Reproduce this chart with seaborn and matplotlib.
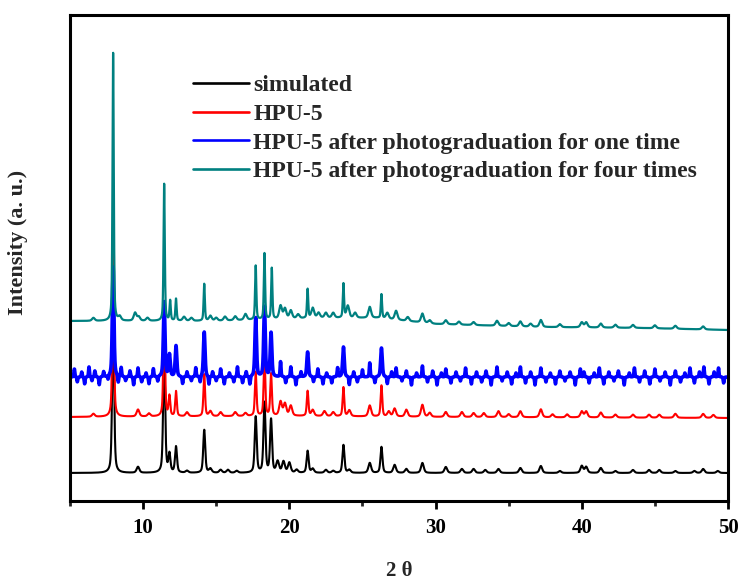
import numpy as np
import pandas as pd
import seaborn as sns
import matplotlib.pyplot as plt
from matplotlib.lines import Line2D
from matplotlib.ticker import MultipleLocator

# ---------------- data ----------------
labels = ["simulated", "HPU-5",
          "HPU-5 after photograduation for one time",
          "HPU-5 after photograduation for four times"]
colors = ["#000000", "#FF0000", "#0000FF", "#008080"]

# baselines (offset in arbitrary units) anchored at 2theta positions
sim_base_x = [5, 50]
sim_base_y = [0, 0]
red_base_x = [5, 20, 30, 50]
red_base_y = [56, 57, 56, 55]
blue_base_x = [5, 50]
blue_base_y = [96, 96]
teal_base_x = [5, 15, 22, 26, 30, 37, 44, 50]
teal_base_y = [152, 152, 155, 155, 149, 146, 145, 143]

# peak positions (2 theta) and heights (a.u.)
sim_pos = [7.95, 9.65, 11.44, 11.8, 12.25, 13.0, 14.18, 14.6, 15.3, 15.8, 16.4, 17.7, 18.3, 18.75,
           19.2, 19.6, 20.0, 20.5, 21.25, 21.6, 22.5, 23.0, 23.7, 24.1, 25.5, 26.3, 27.2, 28.0,
           29.1, 30.7, 31.8, 32.6, 33.4, 34.3, 35.8, 37.2, 38.5, 40.0, 40.3, 41.3, 42.3, 43.5,
           44.6, 45.3, 46.4, 47.7, 48.3, 49.3]
sim_h = [150, 6, 120, 18, 26, 2, 43, 4, 3, 3, 2, 56, 70, 53,
         11, 11, 10, 3, 22, 4, 3, 2, 28, 3, 10, 26, 8, 4,
         10, 6, 4, 4, 3, 4, 5, 7, 2, 7, 6, 5, 2, 3,
         3, 3, 2, 2, 4, 2]

red_pos = [6.6, 7.95, 9.65, 10.4, 11.44, 11.8, 12.25, 13.0, 14.18, 14.6, 15.3, 16.3, 17.0, 17.7,
           18.3, 18.75, 19.4, 19.7, 20.1, 21.25, 21.6, 22.4, 23.0, 23.7, 24.1, 25.5, 26.3, 26.8,
           27.2, 28.0, 29.1, 29.6, 30.7, 31.8, 32.6, 33.3, 34.3, 35.0, 35.8, 37.2, 38.0, 39.0,
           40.0, 40.3, 41.3, 42.3, 43.5, 44.6, 45.3, 46.4, 48.3, 49.0]
red_h = [3, 175, 7, 3, 115, 20, 25, 4, 42, 5, 4, 4, 3, 44,
         60, 42, 14, 12, 10, 25, 6, 5, 4, 29, 6, 11, 31, 5,
         8, 7, 12, 4, 5, 5, 4, 4, 6, 3, 6, 8, 3, 3,
         6, 6, 5, 3, 3, 3, 3, 4, 4, 3]

blue_pos = [5.3, 5.5, 5.8, 6.0, 6.3, 6.5, 6.7, 7.0, 7.3, 7.6, 7.95, 8.3, 8.5, 8.8, 9.1, 9.35,
            9.65, 9.9, 10.2, 10.4, 10.7, 11.0, 11.44, 11.8, 12.25, 12.7, 13.0, 13.3, 13.6,
            13.9, 14.18, 14.5, 14.75, 15.0, 15.3, 15.55, 15.9, 16.2, 16.45, 16.8, 17.05,
            17.3, 17.7, 18.3, 18.75, 19.4, 19.75, 20.1, 20.45, 20.8, 21.25, 21.65, 21.95,
            22.3, 22.55, 22.9, 23.3, 23.7, 24.1, 24.4, 24.65, 25.0, 25.5, 25.85, 26.3, 26.7,
            27.0, 27.3, 27.7, 28.0, 28.35, 28.7, 29.1, 29.45, 29.8, 30.1, 30.4, 30.7, 31.05,
            31.4, 31.7, 32.05, 32.45, 32.8, 33.15, 33.45, 33.8, 34.2, 34.55, 34.9, 35.2,
            35.5, 35.8, 36.15, 36.5, 36.8, 37.2, 37.55, 37.85, 38.2, 38.5, 38.85, 39.2,
            39.55, 39.9, 40.15, 40.5, 40.85, 41.2, 41.5, 41.85, 42.2, 42.5, 42.9, 43.25,
            43.6, 43.95, 44.3, 44.65, 45.0, 45.35, 45.7, 46.05, 46.4, 46.75, 47.05, 47.4,
            47.7, 48.05, 48.35, 48.7, 49.05, 49.35, 49.7]
blue_h = [8, -5, 5, -7, 10, -4, 6, -8, 5, -4, 110, -7, 9, -4, 6, -8,
          9, -5, 4, -7, 8, -5, 75, 22, 31, -7, 5, -4, 9,
          -6, 45, -8, 5, -4, 8, -7, 4, -5, 10, -6, 5,
          -8, 59, 70, 44, 15, -6, 10, -8, 5, 25, -5, 8,
          -7, 4, -6, 9, 30, -8, 5, -5, 7, 14, -6, 29, -7,
          5, 9, -4, 6, -8, 4, 11, -5, 6, -8, 4, 8, -6,
          5, -4, 9, -7, 5, -5, 6, -8, 10, -4, 5, -7,
          4, 10, -6, 5, -8, 9, -5, 4, -7, 6, -4, 5,
          -8, 8, 5, -6, 4, 9, -7, 5, -4, 6, -8, 4,
          9, -5, 6, -7, 8, -4, 5, -8, 6, -5, 4, 9,
          -6, 5, 10, -7, 5, 9, -6]

teal_pos = [6.6, 7.95, 8.4, 9.45, 9.7, 10.3, 11.44, 11.85, 12.25, 12.8, 13.3, 14.18, 14.6, 15.0,
            15.6, 16.3, 17.0, 17.7, 18.3, 18.8, 19.4, 19.7, 20.1, 20.6, 21.25, 21.6, 22.0, 22.5,
            23.0, 23.7, 24.0, 24.5, 25.5, 26.3, 26.7, 27.3, 28.1, 29.1, 29.6, 30.7, 31.6, 32.6,
            34.2, 35.0, 35.8, 36.5, 37.2, 38.5, 40.0, 40.3, 41.3, 42.3, 43.5, 45.0, 46.4, 48.3]
teal_h = [3, 268, 4, 8, 4, 3, 137, 20, 22, 4, 3, 37, 5, 3,
          4, 4, 6, 54, 66, 51, 13, 10, 8, 4, 29, 10, 5, 5,
          5, 34, 12, 5, 11, 24, 6, 9, 4, 9, 3, 4, 3, 3,
          5, 3, 5, 3, 7, 3, 5, 5, 4, 3, 3, 3, 3, 3]

# (name, baseline x, baseline y, peak positions, peak heights, main width, small width)
series = [
    (labels[0], sim_base_x, sim_base_y, sim_pos, sim_h, 0.16, 0.22),
    (labels[1], red_base_x, red_base_y, red_pos, red_h, 0.13, 0.22),
    (labels[2], blue_base_x, blue_base_y, blue_pos, blue_h, 0.13, 0.07),
    (labels[3], teal_base_x, teal_base_y, teal_pos, teal_h, 0.10, 0.22),
]

# ---------------- build profiles ----------------
two_theta = np.linspace(5, 50, 9001)


def profile(x, c, h, w):
    g = np.exp(-4 * np.log(2) * ((x - c) / w) ** 2)
    lo = 1.0 / (1.0 + ((x - c) / (w / 2)) ** 2)
    return h * (0.5 * g + 0.5 * lo)


frames = []
for name, bx, by, pos, hs, w, ws in series:
    y = np.interp(two_theta, bx, by).astype(float)
    for c, h in zip(pos, hs):
        ww = w if abs(h) > 15 else ws
        y = y + profile(two_theta, c, h, ww)
    frames.append(pd.DataFrame({"two_theta": two_theta, "intensity": y, "sample": name}))
df = pd.concat(frames, ignore_index=True)

# ---------------- plot ----------------
sns.set_theme(style="ticks")
plt.rcParams['font.family'] = ['Liberation Serif', 'DejaVu Serif']
plt.rcParams['font.weight'] = 'bold'

fig = plt.figure(figsize=(7.42, 5.81), dpi=100)
ax = fig.add_axes([70 / 742, 80 / 581, 658 / 742, 486 / 581])

widths = [1.5, 1.5, 2.6, 1.6]
for name, col, lw in zip(labels, colors, widths):
    sns.lineplot(data=df[df["sample"] == name], x="two_theta", y="intensity",
                 color=col, linewidth=lw, ax=ax, estimator=None, legend=False)

ax.set_xlim(5, 50)
ax.set_ylim(-28, 458)
ax.set_yticks([])
ax.xaxis.set_major_locator(MultipleLocator(10))
ax.xaxis.set_minor_locator(MultipleLocator(5))
ax.tick_params(axis='x', which='major', direction='out', length=6, width=2,
               labelsize=15, pad=6, colors='black')
ax.tick_params(axis='x', which='minor', direction='out', length=3.5, width=2)
for lab in ax.get_xticklabels():
    lab.set_fontweight('bold')
for sp in ax.spines.values():
    sp.set_linewidth(2.2)
    sp.set_color('black')
    sp.set_visible(True)

ax.set_xlabel("2 θ", fontsize=15, fontweight='bold')
ax.xaxis.set_label_coords(0.5, -0.123)
ax.set_ylabel("Intensity (a. u.)", fontsize=16, fontweight='bold')
ax.yaxis.set_label_coords(-0.064, 0.533)

handles = [Line2D([0], [0], color=c, lw=1.9) for c in colors]
ax.legend(handles, labels, loc='upper left', bbox_to_anchor=(0.187, 0.877),
          frameon=False, handlelength=2.35, handletextpad=0.2,
          labelspacing=0.3, borderpad=0, borderaxespad=0,
          prop={'weight': 'bold', 'size': 17})

fig.savefig("out.png", dpi=100)
